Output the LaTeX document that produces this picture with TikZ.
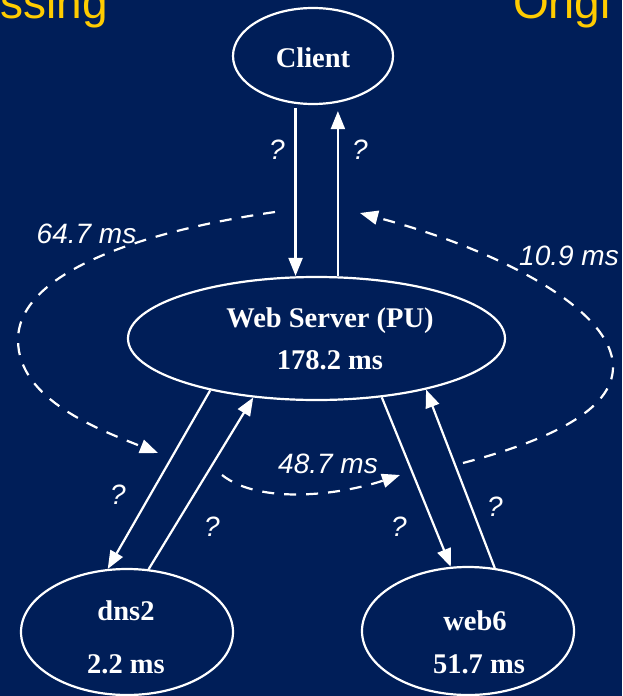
\documentclass[tikz,border=0pt]{standalone}
\usepackage{fontspec}
\setmainfont{Liberation Serif}
\setsansfont{Liberation Sans}
\usetikzlibrary{arrows.meta,shapes.geometric}
\definecolor{navy}{RGB}{0,30,88}
\definecolor{gold}{RGB}{255,204,0}

\begin{document}
\begin{tikzpicture}[x=1pt,y=-1pt,
  host/.style={ellipse, draw=white, line width=2.2pt, inner sep=0pt},
  nm/.style={text=white, font=\fontsize{28.5}{30}\selectfont\bfseries, anchor=base, inner sep=0pt},
  lat/.style={text=white, font=\fontsize{28}{30}\selectfont\sffamily\itshape, anchor=base, inner sep=0pt},
  ask/.style={text=white, font=\fontsize{28}{30}\selectfont\sffamily\itshape, inner sep=0pt},
  flow/.style={draw=white, line width=2.2pt, -{Triangle[length=18pt,width=14pt]}},
  lag/.style={flow, dash pattern=on 12pt off 10pt},
  head/.style={text=gold, font=\fontsize{46}{48}\selectfont\sffamily, inner sep=0pt}
]
\useasboundingbox (0,0) rectangle (622,696);
\clip (0,0) rectangle (622,696);
\fill[navy] (0,0) rectangle (622,696);

% slide title fragments
\node[head, anchor=base east] (tl) at (108,18) {ssing};
\node[head, anchor=base west] (tr) at (513,18) {Origi};

% hosts
\node[host, minimum width=160pt, minimum height=96pt] (client) at (313,56) {};
\node[host, minimum width=377pt, minimum height=123pt] (ws) at (316.5,338.5) {};
\node[host, minimum width=212pt, minimum height=126pt] (dns) at (127,632) {};
\node[host, minimum width=212pt, minimum height=128pt] (web) at (468,631) {};

% host labels
\node[nm] (clientT) at (313,67) {Client};
\node[nm] (wsA) at (330,327) {Web Server (PU)};
\node[nm] (wsB) at (330,369) {178.2 ms};
\node[nm] (dnsA) at (126,620) {dns2};
\node[nm] (dnsB) at (126,673) {2.2 ms};
\node[nm] (webA) at (475,630) {web6};
\node[nm] (webB) at (479,673) {51.7 ms};

% request / reply edges
\draw[flow, shorten <=4pt] (client.-110) -- (client.-110 |- ws.north);
\draw[flow, shorten >=6pt] (ws.71.5) -- (ws.71.5 |- client.south);
\draw[flow] (ws.-154.5) -- (dns.107);
\draw[flow] (dns.71.2) -- (ws.-137.6);
\draw[flow] (ws.-42.9) -- (web.105.1);
\draw[flow] (web.67.3) -- (ws.-25.5);

% unknown edge delays
\node[ask] (q1) at (277,150) {?};
\node[ask] (q2) at (360,150) {?};
\node[ask] (q3) at (118,495) {?};
\node[ask] (q4) at (212,527) {?};
\node[ask] (q5) at (399,527) {?};
\node[ask] (q6) at (495,507) {?};

% measured intervals between message events
\coordinate (a0) at (275,212);
\coordinate (a1) at (18,340);
\coordinate (a2) at (158,453);
\draw[lag] (a0) .. controls (150,230) and (18,270) .. (a1)
                .. controls (18,400) and (100,430) .. (a2);

\coordinate (b0) at (463,463);
\coordinate (b1) at (613,367);
\coordinate (b2) at (360,213);
\draw[lag] (b0) .. controls (550,440) and (613,410) .. (b1)
                .. controls (613,310) and (500,250) .. (b2);

\coordinate (c0) at (222,475);
\coordinate (c1) at (400,475);
\draw[lag] (c0) .. controls (260,505) and (340,495) .. (c1);

\node[lat] (t1) at (86.5,243) {64.7 ms};
\node[lat] (t2) at (569,265) {10.9 ms};
\node[lat] (t3) at (328,473) {48.7 ms};
\end{tikzpicture}
\end{document}
